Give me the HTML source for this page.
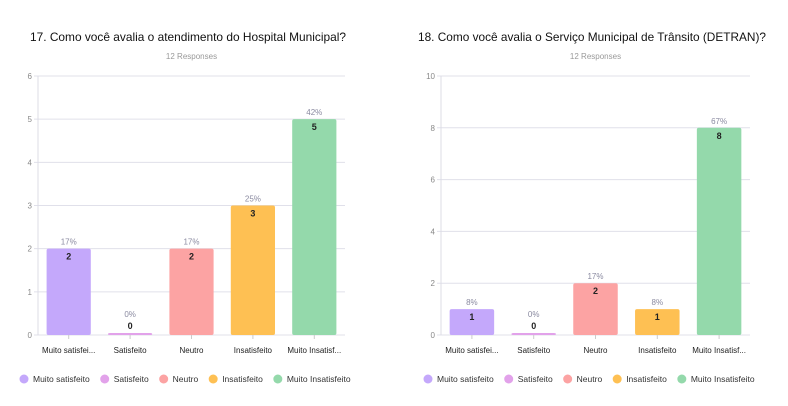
<!DOCTYPE html>
<html><head><meta charset="utf-8"><style>
body{margin:0;background:#fff;width:788px;height:406px;overflow:hidden;font-family:"Liberation Sans",sans-serif}
svg{display:block}
</style></head><body>
<svg id="s" width="788" height="406"></svg>
<script>
const categories=["Muito satisfeito","Satisfeito","Neutro","Insatisfeito","Muito Insatisfeito"];
const shortLabels=["Muito satisfei...","Satisfeito","Neutro","Insatisfeito","Muito Insatisf..."];
const colors=["#c4a8fb","#e2a2ea","#fca3a3","#fec053","#94d9ab"];
const values1=[2,0,2,3,5];
const pct1=["17%","0%","17%","25%","42%"];
const ticks1=[0,1,2,3,4,5,6];
const values2=[1,0,2,1,8];
const pct2=["8%","0%","17%","8%","67%"];
const ticks2=[0,2,4,6,8,10];
const total=12;
const NS="http://www.w3.org/2000/svg";
const svg=document.getElementById('s');
function mk(t,a,txt,p){const e=document.createElementNS(NS,t);for(const k in a)e.setAttribute(k,a[k]);if(txt!==undefined)e.textContent=txt;(p||svg).appendChild(e);return e;}
function chart(id,title,tx,tw,x0,x1,values,pct,ticks,legendX){
  const g=mk('g',{});
  
  
  const tt=mk('text',{x:tx,y:41,'font-size':12,fill:'#111',textLength:tw,lengthAdjust:'spacingAndGlyphs'},title,g);
  
  
  const st=mk('text',{x:(x0+x1)/2,y:59,'font-size':8,fill:'#999','text-anchor':'middle'},total+" Responses",g);
  
  
  const yTop=76,yBot=335,max=ticks[ticks.length-1];
  const y=v=>yBot-(v/max)*(yBot-yTop);
  ticks.forEach(t=>{
    mk('line',{x1:x0-4,x2:x1,y1:y(t),y2:y(t),stroke:'#e0e0ea','stroke-width':1},undefined,g);
    const l=mk('text',{x:x0-6,y:y(t)+3,'font-size':8,fill:'#888','text-anchor':'end'},t,g);
    
    
  });
  mk('line',{x1:x0,x2:x0,y1:yTop,y2:yBot,stroke:'#dcdce6'},undefined,g);
  const cw=(x1-x0)/values.length,bw=cw*0.72;
  values.forEach((v,i)=>{
    const cx=x0+cw*(i+0.5);
    const h=Math.max(yBot-y(v),2);
    const r=mk('rect',{x:cx-bw/2,y:yBot-h,width:bw,height:h,rx:2,fill:colors[i]},undefined,g);
    
    
    mk('line',{x1:cx,x2:cx,y1:yBot,y2:yBot+4,stroke:'#ccc'},undefined,g);
    const top=yBot-h;
    if(v>0){
      mk('text',{x:cx,y:top-4,'font-size':8,fill:'#8a8aa0','text-anchor':'middle'},pct[i],g);
      mk('text',{x:cx,y:top+11,'font-size':9,'font-weight':'bold',fill:'#222','text-anchor':'middle'},v,g);
    }else{
      mk('text',{x:cx,y:top-16,'font-size':8,fill:'#8a8aa0','text-anchor':'middle'},pct[i],g);
      mk('text',{x:cx,y:top-4,'font-size':9,'font-weight':'bold',fill:'#222','text-anchor':'middle'},v,g);
    }
    const xl=mk('text',{x:cx,y:353,'font-size':8,fill:'#222','text-anchor':'middle'},shortLabels[i],g);
    
    
  });
  let lx=legendX;
  categories.forEach((c,i)=>{
    const le=mk('g',{},undefined,g);
    
    
    mk('circle',{cx:lx+5,cy:379,r:4.5,fill:colors[i]},undefined,le);
    const t=mk('text',{x:lx+14,y:382,'font-size':8.5,fill:'#333'},c,le);
    lx+=14+t.getComputedTextLength()+10;
  });
}
chart('hospital-chart',"17. Como você avalia o atendimento do Hospital Municipal?",30,316,38,345,values1,pct1,ticks1,19);
chart('detran-chart',"18. Como você avalia o Serviço Municipal de Trânsito (DETRAN)?",418,348,441,750,values2,pct2,ticks2,423);
</script>
</body></html>
